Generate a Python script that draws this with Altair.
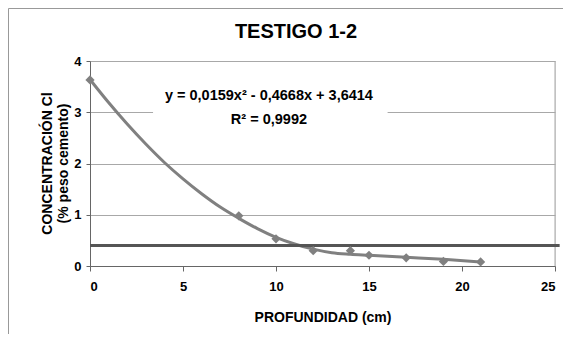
import altair as alt
import pandas as pd

# measured points
prof = [0, 8, 10, 12, 14, 15, 17, 19, 21]
conc = [3.63, 0.98, 0.53, 0.30, 0.30, 0.21, 0.16, 0.09, 0.08]

# trend curve as drawn
curve_x = [0, 1, 2, 3, 4, 5, 6, 7, 8, 9, 10, 11, 12, 13, 14, 15, 17, 19, 21]
curve_y = [3.64, 3.19, 2.77, 2.38, 2.02, 1.70, 1.41, 1.15, 0.93, 0.73, 0.56,
           0.43, 0.33, 0.26, 0.23, 0.21, 0.17, 0.13, 0.08]

threshold = 0.40
x_ticks = [0, 5, 10, 15, 20, 25]
y_ticks = [0, 1, 2, 3, 4]

title_text = "TESTIGO 1-2"
eq_lines = ["y = 0,0159x² - 0,4668x + 3,6414", "R² = 0,9992"]

FONT = "Liberation Sans"
GRAY = "#808080"

pts = pd.DataFrame({"x": prof, "y": conc})
crv = pd.DataFrame({"x": curve_x, "y": curve_y})

xs = alt.Scale(domain=[0, 25], nice=False)
ys = alt.Scale(domain=[0, 4], nice=False)

xax = alt.Axis(values=x_ticks, grid=False, title="PROFUNDIDAD (cm)", format="d",
               labelFont=FONT, labelFontSize=13, labelFontWeight="bold", labelColor="#000",
               labelPadding=9, tickSize=5, tickColor="#666", domainColor="#666",
               titleFont=FONT, titleFontSize=14, titleFontWeight="bold", titleColor="#000",
               titleY=51, titleBaseline="middle")
yax = alt.Axis(values=y_ticks, grid=True, gridColor="#a8a8a8", format="d",
               title=["CONCENTRACIÓN Cl", "(% peso cemento)"],
               labelFont=FONT, labelFontSize=13, labelFontWeight="bold", labelColor="#000",
               labelPadding=5, tickSize=4, tickColor="#666", domainColor="#666",
               titleFont=FONT, titleFontSize=14, titleFontWeight="bold", titleColor="#000",
               titleLineHeight=16, titleAngle=270, titleX=-36, titleY=102,
               titleAlign="center", titleBaseline="bottom")

base = alt.Chart(crv).mark_line(color=GRAY, strokeWidth=3, interpolate="monotone").encode(
    x=alt.X("x:Q", scale=xs, axis=xax),
    y=alt.Y("y:Q", scale=ys, axis=yax),
)

right_border = alt.Chart(pd.DataFrame({"x": [25], "y": [0], "y2": [4]})).mark_rule(
    color="#a8a8a8", strokeWidth=1).encode(x="x:Q", y="y:Q", y2="y2:Q")

box = alt.Chart(pd.DataFrame({"x": [3.39], "x2": [16.0], "y": [2.75], "y2": [3.57]})).mark_rect(
    color="white").encode(x="x:Q", x2="x2:Q", y="y:Q", y2="y2:Q")

eq = alt.Chart(pd.DataFrame({"x": [9.62, 9.62], "y": [3.32, 2.85], "t": eq_lines})).mark_text(
    font=FONT, fontSize=14.5, fontWeight="bold", color="#000", align="center", baseline="middle").encode(
    x="x:Q", y="y:Q", text="t:N")

hline = alt.Chart(pd.DataFrame({"x": [0], "x2": [25.25], "y": [threshold]})).mark_rule(
    color="#555555", strokeWidth=3).encode(x="x:Q", x2="x2:Q", y="y:Q")

points = alt.Chart(pts).mark_point(shape="diamond", filled=True, color=GRAY, size=85, opacity=1).encode(
    x="x:Q", y="y:Q")

title = alt.Chart(pd.DataFrame({"t": [title_text]})).mark_text(
    font=FONT, fontSize=20, fontWeight="bold", color="#000", align="center", baseline="middle").encode(
    x=alt.value(206), y=alt.value(-29), text="t:N")

frame_left = alt.Chart(pd.DataFrame({"a": [0]})).mark_rule(color="#999999", strokeWidth=1).encode(
    x=alt.value(-81.5), y=alt.value(-52.5), y2=alt.value(284))
frame_top = alt.Chart(pd.DataFrame({"a": [0]})).mark_rule(color="#999999", strokeWidth=1).encode(
    x=alt.value(-81.5), x2=alt.value(475), y=alt.value(-52.5))

chart = alt.layer(right_border, box, eq, base, hline, points, title, frame_left, frame_top).properties(
    width=465, height=205,
    padding={"left": 82, "top": 53, "right": 8, "bottom": 68},
    autosize=alt.AutoSizeParams(type="none"),
).configure_view(stroke=None).configure(background="white")

chart.save("out.html", embed_options={"renderer": "svg", "actions": False})
